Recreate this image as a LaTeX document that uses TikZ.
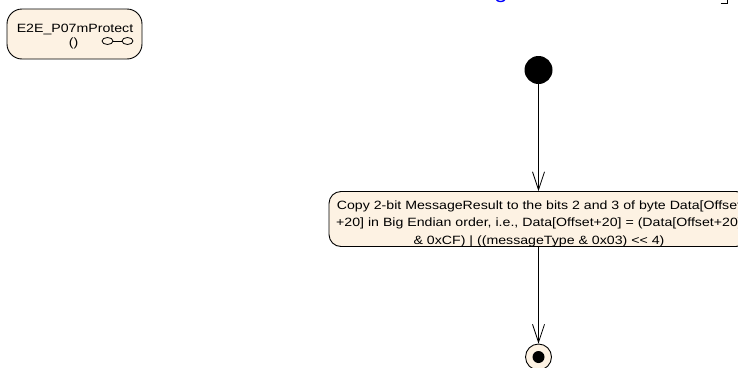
\documentclass[tikz,border=0pt]{standalone}
\usepackage{fontspec}
\newfontfamily\eafont[FakeStretch=1.18]{Liberation Sans}
\usetikzlibrary{arrows.meta}

\definecolor{actfill}{RGB}{253,242,227}

\begin{document}
\begin{tikzpicture}[
  x=1pt, y=-1pt,
  font=\eafont\fontsize{12}{17.4}\selectfont,
  >=Stealth,
  actbox/.style={draw=black, fill=actfill, line width=0.9pt, rounded corners=12pt, inner sep=0pt},
  flowedge/.style={-{Straight Barb[length=18pt,width=12pt]}, draw=black, line width=0.8pt}
]
  \useasboundingbox (0,0) rectangle (738,367);
  \clip (0,0) rectangle (738,367);
  % frame fragments at the top edge
  \node[anchor=base, inner sep=0pt, text=blue, font=\eafont\fontsize{20}{24}\selectfont] (titlepart) at (501,-2) {g};
  \draw[line width=0.8pt] (720.5,3) -- (727.5,3) -- (727.5,-1);
  % operation
  \node[actbox, rounded corners=15pt, minimum width=135pt, minimum height=50pt] (protect) at (74.5,34) {};
  \node[anchor=base, inner sep=0pt] (protname) at (75,32) {E2E\_P07mProtect};
  \node[anchor=base, inner sep=0pt] (protargs) at (73.5,46) {()};
  \draw[line width=0.8pt] (107.5,41) ellipse (5.5pt and 3.5pt);
  \draw[line width=0.8pt] (127.5,41) ellipse (5.5pt and 3.5pt);
  \draw[line width=0.8pt] (113,41) -- (122,41);
  % activity
  \node[circle, fill=black, minimum size=28pt, inner sep=0pt] (start) at (538.5,70) {};
  \node[actbox, minimum width=419pt, minimum height=55pt] (copyact) at (538.5,219) {};
  \node[anchor=base, align=center, inner sep=0pt] (copytext) at (539,244)
    {Copy 2-bit MessageResult to the bits 2 and 3 of byte Data[Offset\\
     +20] in Big Endian order, i.e., Data[Offset+20] = (Data[Offset+20]\\
     \& 0xCF) | ((messageType \& 0x03) <\kern0pt< 4)};
  \node[circle, draw=black, fill=actfill, line width=0.9pt, minimum size=26pt, inner sep=0pt] (final) at (538.5,357) {};
  \node[circle, fill=black, minimum size=12pt, inner sep=0pt] (finaldot) at (final.center) {};
  \draw[flowedge] (start) -- (copyact);
  \draw[flowedge] (copyact) -- (final);
\end{tikzpicture}
\end{document}
